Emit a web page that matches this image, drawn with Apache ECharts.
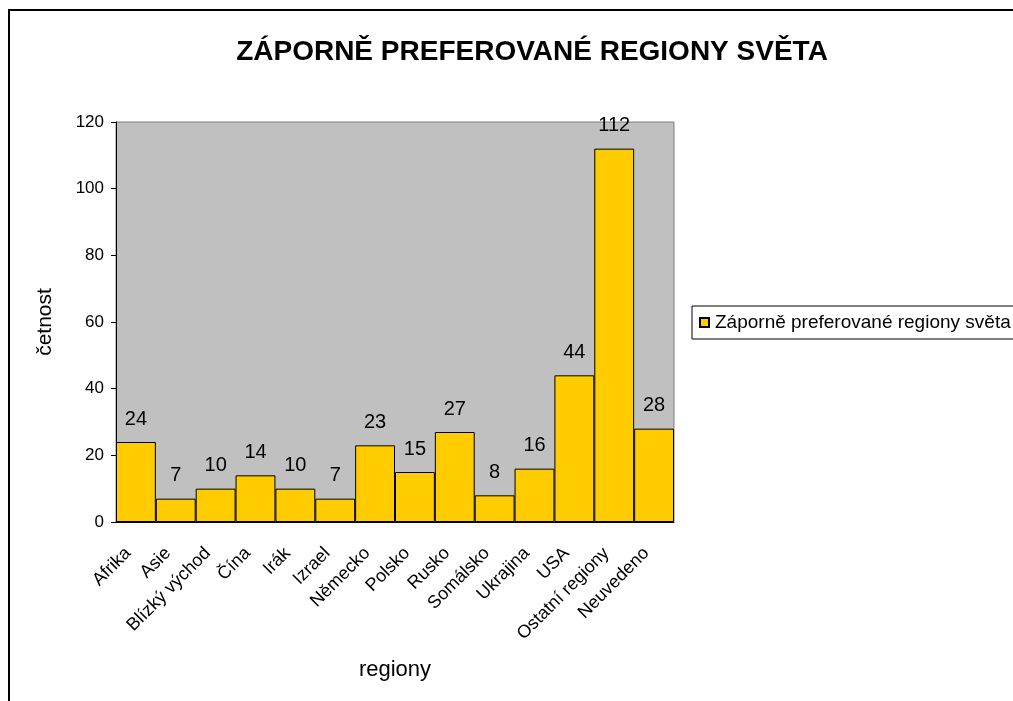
<!DOCTYPE html>
<html>
<head>
<meta charset="utf-8">
<script src="https://cdn.jsdelivr.net/npm/echarts@6/dist/echarts.min.js"></script>
<style>
  html, body { margin: 0; padding: 0; background: #fff; }
  #chart { width: 1013px; height: 701px; }
</style>
</head>
<body>
<div id="chart"></div>
<script>
// data
const regions = ['Afrika', 'Asie', 'Blízký východ', 'Čína', 'Irák', 'Izrael', 'Německo', 'Polsko', 'Rusko', 'Somálsko', 'Ukrajina', 'USA', 'Ostatní regiony', 'Neuvedeno']
const counts = [24, 7, 10, 14, 10, 7, 23, 15, 27, 8, 16, 44, 112, 28]
const seriesName = 'Záporně preferované regiony světa'

const myChart = echarts.init(document.getElementById('chart'))
myChart.setOption({
  animation: false,
  textStyle: { fontFamily: 'Arial, "Liberation Sans", sans-serif', color: '#000' },
  title: {
    text: 'ZÁPORNĚ PREFEROVANÉ REGIONY SVĚTA',
    left: 527,
    top: 33,
    textAlign: 'center',
    textStyle: { fontSize: 28, fontWeight: 'bold', color: '#000' }
  },
  graphic: [
    {
      // outer chart frame, runs off the right and bottom edge
      type: 'rect',
      shape: { x: 9, y: 10, width: 1100, height: 800 },
      style: { fill: 'none', stroke: '#000', lineWidth: 2 },
      silent: true
    }
  ],
  legend: {
    left: 692,
    top: 306,
    itemWidth: 9,
    itemHeight: 9,
    itemGap: 0,
    padding: [7, 30, 7, 7],
    borderColor: '#000',
    borderWidth: 1,
    icon: 'rect',
    textStyle: { fontSize: 19, color: '#000', padding: [0, 0, 0, 1] },
    data: [seriesName]
  },
  grid: {
    left: 116,
    right: 339,
    top: 122,
    bottom: 179,
    show: true,
    backgroundColor: '#C0C0C0',
    borderColor: '#808080',
    borderWidth: 1
  },
  xAxis: {
    type: 'category',
    data: regions,
    name: 'regiony',
    nameLocation: 'middle',
    nameGap: 137,
    nameTextStyle: { fontSize: 22, color: '#000' },
    axisLine: { lineStyle: { color: '#000', width: 1 } },
    axisTick: { length: 5, lineStyle: { color: '#000' } },
    axisLabel: {
      rotate: 45,
      fontSize: 18,
      color: '#000',
      margin: 8,
      interval: 0,
      verticalAlign: 'top',
      padding: [0, 20, 0, 0]
    }
  },
  yAxis: {
    type: 'value',
    min: 0,
    max: 120,
    interval: 20,
    name: 'četnost',
    nameLocation: 'middle',
    nameGap: 60,
    nameTextStyle: { fontSize: 21, color: '#000' },
    axisLine: { show: true, lineStyle: { color: '#000', width: 1 } },
    axisTick: { show: true, length: 5, lineStyle: { color: '#000' } },
    axisLabel: { fontSize: 17, color: '#000', margin: 12 },
    splitLine: { show: false }
  },
  series: [
    {
      name: seriesName,
      type: 'bar',
      data: counts,
      barCategoryGap: '0%',
      itemStyle: { color: '#FFCC00', borderColor: '#000', borderWidth: 1 },
      label: {
        show: true,
        position: 'top',
        distance: 13,
        fontSize: 20,
        color: '#000'
      }
    }
  ]
})
window.onresize = function() {
  myChart.resize()
}
</script>
</body>
</html>
